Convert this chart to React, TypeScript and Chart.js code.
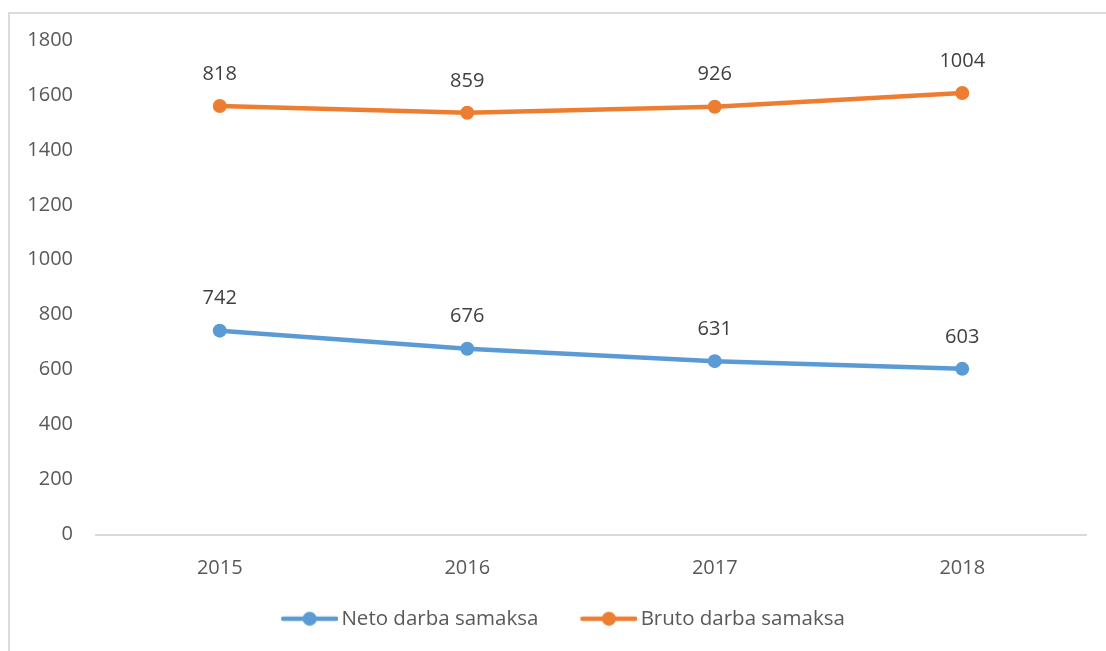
import React, { useEffect, useRef } from "react";
import { Chart, registerables } from "chart.js";

Chart.register(...registerables);

const categories = ["2015", "2016", "2017", "2018"];
const netoValues = [742, 676, 631, 603];
const brutoValues = [818, 859, 926, 1004];
const seriesNames = ["Neto darba samaksa", "Bruto darba samaksa"];
const seriesColors = ["#5B9BD5", "#ED7D31"];

const FONT = "'Open Sans', 'Noto Sans', sans-serif";
const CANVAS_W = 1120;
const CANVAS_H = 639;

// legend marker: transparent left margin (A) then line with a dot
const MARK_A = 32;
const MARK_W = MARK_A + 64;

function makeLegendMarker(color: string): HTMLCanvasElement {
  const c = document.createElement("canvas");
  c.width = MARK_W;
  c.height = 16;
  const ctx = c.getContext("2d")!;
  const x0 = MARK_W - 57;
  ctx.strokeStyle = color;
  ctx.lineWidth = 4.5;
  ctx.lineCap = "round";
  ctx.beginPath();
  ctx.moveTo(x0 + 2, 8);
  ctx.lineTo(MARK_W - 2, 8);
  ctx.stroke();
  ctx.fillStyle = color;
  ctx.beginPath();
  ctx.arc(x0 + 28.5, 8, 7, 0, Math.PI * 2);
  ctx.fill();
  return c;
}

const dataLabelPlugin = {
  id: "dataLabels",
  afterDatasetsDraw(chart: any) {
    const ctx = chart.ctx;
    ctx.save();
    ctx.font = `20px ${FONT}`;
    ctx.fillStyle = "#404040";
    ctx.textAlign = "center";
    ctx.textBaseline = "middle";
    chart.data.datasets.forEach((ds: any, di: number) => {
      const meta = chart.getDatasetMeta(di);
      meta.data.forEach((el: any, i: number) => {
        ctx.fillText(String(ds.data[i]), el.x, el.y - 32);
      });
    });
    ctx.restore();
  },
};

export default function App() {
  const ref = useRef<HTMLCanvasElement | null>(null);

  useEffect(() => {
    if (!ref.current) return;
    const markers = seriesColors.map((c) => makeLegendMarker(c));
    const chart = new Chart(ref.current, {
      type: "line",
      data: {
        labels: categories,
        datasets: [
          {
            label: seriesNames[0],
            data: netoValues,
            borderColor: seriesColors[0],
            backgroundColor: seriesColors[0],
            borderWidth: 4.5,
            pointRadius: 7,
            pointBorderWidth: 0,
            pointBackgroundColor: seriesColors[0],
            tension: 0,
            fill: false,
          },
          {
            label: seriesNames[1],
            data: brutoValues,
            borderColor: seriesColors[1],
            backgroundColor: seriesColors[1],
            borderWidth: 4.5,
            pointRadius: 7,
            pointBorderWidth: 0,
            pointBackgroundColor: seriesColors[1],
            tension: 0,
            fill: false,
          },
        ],
      },
      options: {
        responsive: false,
        animation: false,
        layout: { padding: { left: 0, top: 28, right: 42, bottom: 12 } },
        scales: {
          x: {
            offset: true,
            grid: { display: false, drawTicks: false },
            border: { display: true, color: "#d9d9d9", width: 2 },
            ticks: { color: "#595959", font: { family: FONT, size: 20 }, padding: 22 },
            afterFit: (scale: any) => {
              scale.height = 64;
            },
          },
          y: {
            stacked: true,
            min: 0,
            max: 1800,
            grid: { display: false, drawTicks: false },
            border: { display: false },
            ticks: {
              stepSize: 200,
              color: "#595959",
              font: { family: FONT, size: 20 },
              padding: 23,
              callback: (v: any) => String(v),
            },
            afterFit: (scale: any) => {
              scale.width = 88;
              scale.paddingTop = 0;
              scale.paddingBottom = 0;
            },
          },
        },
        plugins: {
          tooltip: { enabled: false },
          legend: {
            display: true,
            position: "bottom",
            labels: {
              usePointStyle: true,
              pointStyleWidth: MARK_A + 50,
              padding: 10,
              color: "#595959",
              font: { family: FONT, size: 20.5 },
              generateLabels: (ch: any) =>
                ch.data.datasets.map((ds: any, i: number) => ({
                  text: ds.label,
                  pointStyle: markers[i],
                  fillStyle: seriesColors[i],
                  strokeStyle: seriesColors[i],
                  fontColor: "#595959",
                  lineWidth: 0,
                  hidden: false,
                  datasetIndex: i,
                })),
            },
          },
        },
      },
      plugins: [dataLabelPlugin],
    } as any);
    return () => chart.destroy();
  }, []);

  return (
    <div
      style={{
        position: "fixed",
        left: 8,
        top: 12,
        width: 1098,
        height: 639,
        overflow: "hidden",
        background: "#ffffff",
      }}
    >
      <div
        style={{
          position: "absolute",
          left: 0,
          top: 0,
          width: 1300,
          height: 900,
          border: "2px solid #dcdcdc",
          boxSizing: "border-box",
        }}
      />
      <canvas
        ref={ref}
        width={CANVAS_W}
        height={CANVAS_H}
        style={{ position: "absolute", left: 0, top: 0, width: CANVAS_W, height: CANVAS_H }}
      />
    </div>
  );
}
